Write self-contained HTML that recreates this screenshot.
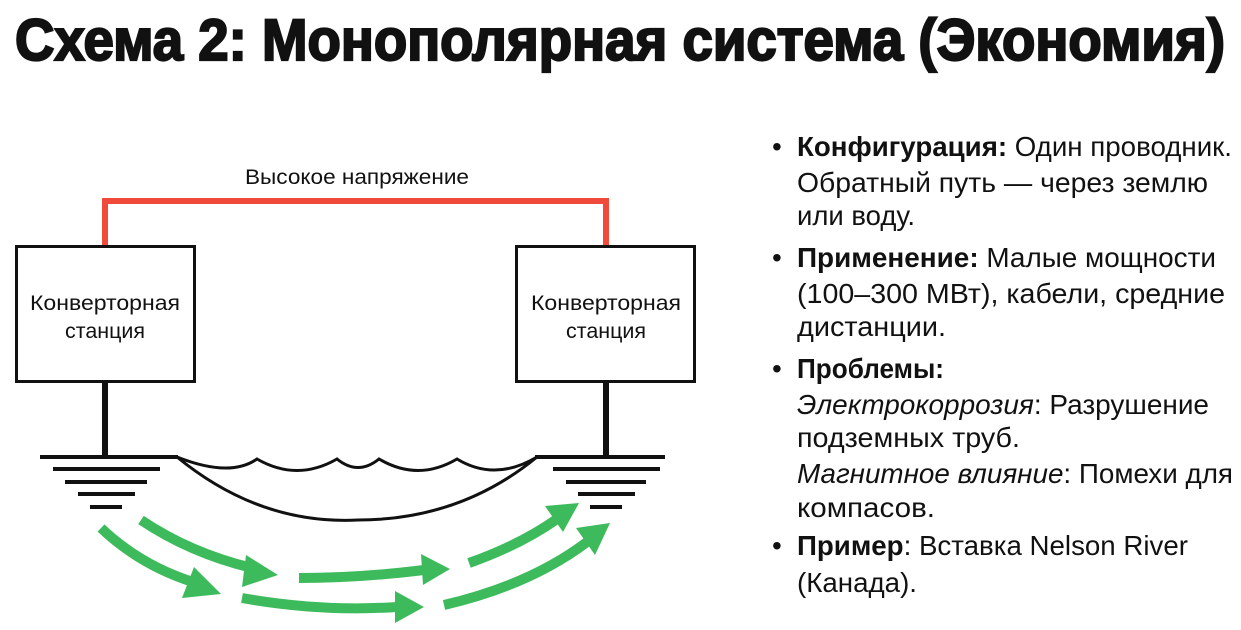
<!DOCTYPE html>
<html><head><meta charset="utf-8"><style>
html,body{margin:0;padding:0;background:#fff;width:1241px;height:630px;overflow:hidden}
svg{display:block}
text{font-family:"Liberation Sans",sans-serif;fill:#111}
</style></head><body>
<svg width="1241" height="630" viewBox="0 0 1241 630" xmlns="http://www.w3.org/2000/svg">
<text x="15" y="60" font-size="58" font-weight="bold" textLength="1210" lengthAdjust="spacingAndGlyphs" style="stroke:#111;stroke-width:2.2">Схема 2: Монополярная система (Экономия)</text>

<polyline points="105,245 105,201 606,201 606,245" fill="none" stroke="#f04a3a" stroke-width="6"/>
<text x="245" y="184" font-size="21" textLength="224" lengthAdjust="spacingAndGlyphs">Высокое напряжение</text>

<rect x="16.5" y="246.5" width="178" height="135" fill="#fff" stroke="#111" stroke-width="3"/>
<rect x="516.5" y="246.5" width="178" height="135" fill="#fff" stroke="#111" stroke-width="3"/>
<text x="105" y="310" font-size="21" text-anchor="middle" textLength="150" lengthAdjust="spacingAndGlyphs">Конверторная</text>
<text x="105" y="338" font-size="21" text-anchor="middle" textLength="80" lengthAdjust="spacingAndGlyphs">станция</text>
<text x="606" y="310" font-size="21" text-anchor="middle" textLength="150" lengthAdjust="spacingAndGlyphs">Конверторная</text>
<text x="606" y="338" font-size="21" text-anchor="middle" textLength="80" lengthAdjust="spacingAndGlyphs">станция</text>

<line x1="105" y1="382" x2="105" y2="457" stroke="#111" stroke-width="6"/>
<line x1="606" y1="382" x2="606" y2="457" stroke="#111" stroke-width="6"/>

<g stroke="#111" stroke-width="4">
<line x1="40" y1="457" x2="178" y2="457"/>
<line x1="535" y1="457" x2="665" y2="457"/>
<line x1="53" y1="469" x2="160" y2="469"/>
<line x1="65" y1="482" x2="147" y2="482"/>
<line x1="78" y1="494" x2="135" y2="494"/>
<line x1="90" y1="507" x2="122" y2="507"/>
<line x1="553" y1="469" x2="660" y2="469"/>
<line x1="566" y1="482" x2="646" y2="482"/>
<line x1="578" y1="494" x2="635" y2="494"/>
<line x1="590" y1="507" x2="622" y2="507"/>
</g>

<path d="M177,457 Q230,478 257,459 Q297,482 337,459 Q358,476 379,459 Q418,482 457,459 Q495,482 537,457" fill="none" stroke="#111" stroke-width="3"/>
<path d="M177,457 Q260,525 358,520 Q460,520 537,457" fill="none" stroke="#111" stroke-width="3"/>

<g stroke="#3dbb5c" stroke-width="10" fill="none" stroke-linecap="butt">
<path d="M141,520 Q190,553 252,568"/>
<path d="M101,528 Q140,565 193,582"/>
<path d="M299,578 Q360,578 424,570"/>
<path d="M242,598 Q320,612 397,607"/>
<path d="M469,563 Q520,545 557,519"/>
<path d="M444,605 Q530,585 587,542"/>
</g>
<g fill="#3dbb5c">
<polygon points="278,575 246,555 242,587"/>
<polygon points="221,594 194,567 182,598"/>
<polygon points="450,569 421,554 423,585"/>
<polygon points="424,607 395,591 395,623"/>
<polygon points="579,503 545,506 563,532"/>
<polygon points="610,523 576,528 595,555"/>
</g>

<g font-size="28">
<text x="772" y="156">•</text><text x="772" y="267">•</text><text x="772" y="378">•</text><text x="772" y="555">•</text>
<text x="797" y="156" textLength="435" lengthAdjust="spacingAndGlyphs"><tspan font-weight="bold">Конфигурация:</tspan> Один проводник.</text>
<text x="797" y="192" textLength="411" lengthAdjust="spacingAndGlyphs">Обратный путь — через землю</text>
<text x="797" y="225" textLength="118" lengthAdjust="spacingAndGlyphs">или воду.</text>
<text x="797" y="267" textLength="419" lengthAdjust="spacingAndGlyphs"><tspan font-weight="bold">Применение:</tspan> Малые мощности</text>
<text x="797" y="303" textLength="428" lengthAdjust="spacingAndGlyphs">(100–300 МВт), кабели, средние</text>
<text x="797" y="336" textLength="149" lengthAdjust="spacingAndGlyphs">дистанции.</text>
<text x="797" y="378" textLength="147" lengthAdjust="spacingAndGlyphs" font-weight="bold">Проблемы:</text>
<text x="797" y="414" textLength="412" lengthAdjust="spacingAndGlyphs"><tspan font-style="italic">Электрокоррозия</tspan>: Разрушение</text>
<text x="797" y="447" textLength="223" lengthAdjust="spacingAndGlyphs">подземных труб.</text>
<text x="797" y="483" textLength="436" lengthAdjust="spacingAndGlyphs"><tspan font-style="italic">Магнитное влияние</tspan>: Помехи для</text>
<text x="797" y="517" textLength="138" lengthAdjust="spacingAndGlyphs">компасов.</text>
<text x="797" y="555" textLength="391" lengthAdjust="spacingAndGlyphs"><tspan font-weight="bold">Пример</tspan>: Вставка Nelson River</text>
<text x="797" y="592" textLength="120" lengthAdjust="spacingAndGlyphs">(Канада).</text>
</g>
</svg>
</body></html>
